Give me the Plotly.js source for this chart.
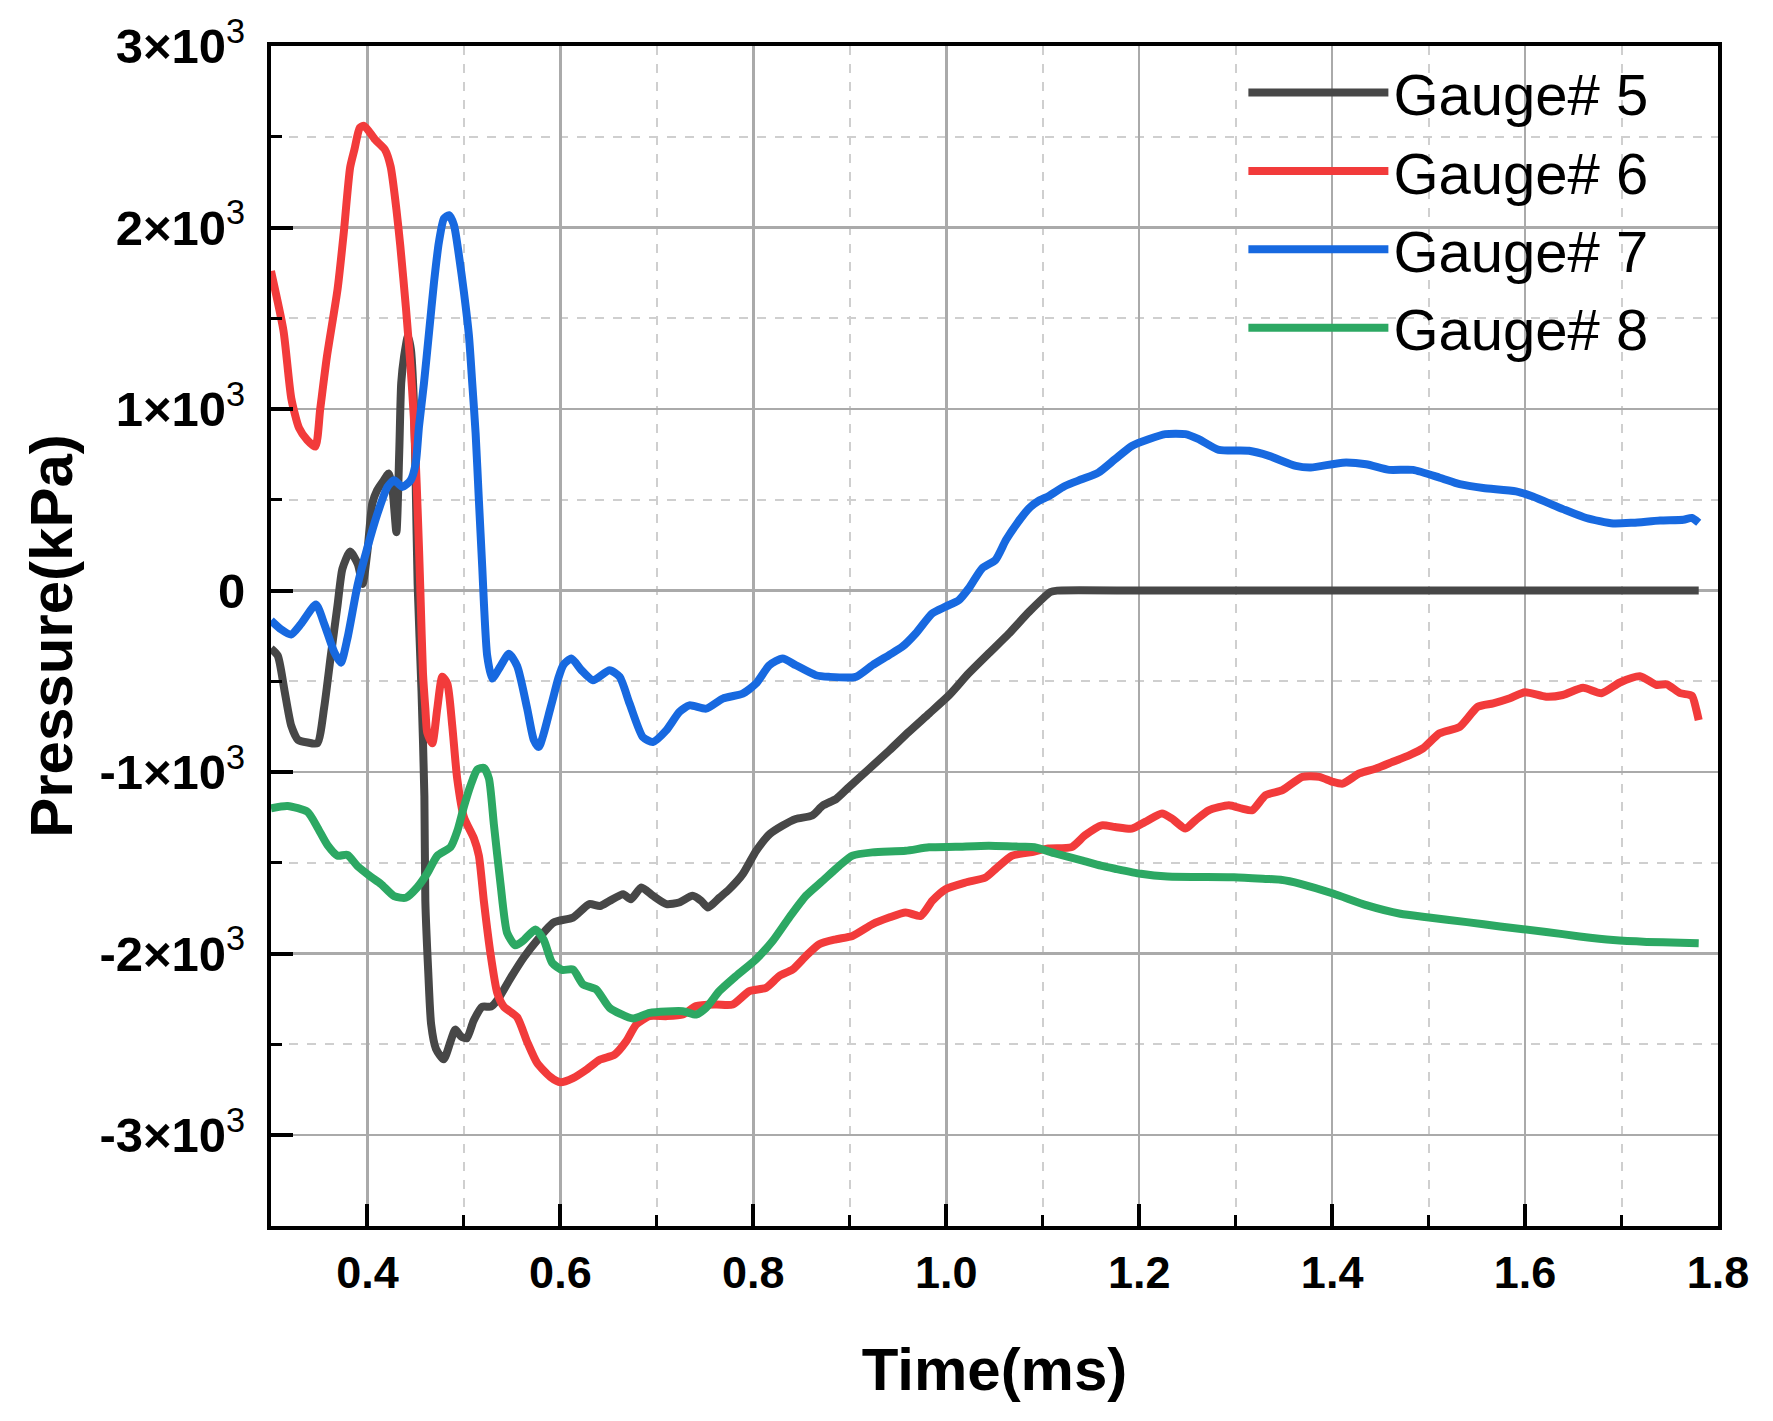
<!DOCTYPE html>
<html>
<head>
<meta charset="utf-8">
<script src="https://cdn.plot.ly/plotly-3.0.1.min.js"></script>
<style>
  html, body { margin: 0; padding: 0; background: #fff; }
  #chart { width: 1773px; height: 1421px; }
</style>
</head>
<body>
<div id="chart"></div>
<script>
// Gauge readings, time in ms, pressure in kPa

var t5 = [0.300, 0.307, 0.314, 0.321, 0.328, 0.338, 0.348, 0.355, 0.362, 0.369, 0.374, 0.382, 0.390, 0.395,
  0.400, 0.405, 0.410, 0.417, 0.422, 0.426, 0.430, 0.433, 0.435, 0.438, 0.442, 0.445, 0.448, 0.450, 0.452,
  0.456, 0.459, 0.460, 0.463, 0.466, 0.471, 0.479, 0.486, 0.491, 0.497, 0.503, 0.510, 0.519, 0.528, 0.535,
  0.548, 0.562, 0.576, 0.593, 0.613, 0.630, 0.641, 0.651, 0.665, 0.673, 0.684, 0.696, 0.710, 0.723, 0.737,
  0.746, 0.753, 0.765, 0.775, 0.789, 0.803, 0.817, 0.830, 0.844, 0.861, 0.872, 0.886, 0.899, 0.920, 0.941,
  0.961, 0.982, 1.003, 1.023, 1.044, 1.065, 1.086, 1.108, 1.115, 1.2, 1.3, 1.4, 1.5, 1.6, 1.7, 1.78];
var p5 = [-319, -358, -551, -745, -822, -837, -841, -648, -358, -80, 120, 215, 146, 37,
  220, 479, 553, 608, 645, 553, 322, 775, 1144, 1292, 1403, 1329, 1052, 590, 35,
  -551, -1132, -1712, -2099, -2389, -2524, -2582, -2485, -2418, -2456, -2466, -2369, -2292, -2292, -2253,
  -2137, -2021, -1925, -1828, -1801, -1727, -1737, -1709, -1672, -1700, -1635, -1681, -1727, -1718, -1681,
  -1709, -1746, -1691, -1645, -1562, -1433, -1341, -1295, -1258, -1239, -1184, -1147, -1083, -982, -880,
  -779, -678, -576, -457, -346, -236, -116, -8, 0, 0, 0, 0, 0, 0, 0, 0];

var t6 = [0.300, 0.313, 0.321, 0.329, 0.3375, 0.346, 0.351, 0.358, 0.369, 0.3755, 0.382, 0.3865, 0.392, 0.3965,
  0.408, 0.418, 0.424, 0.430, 0.434, 0.440, 0.4446, 0.448, 0.451, 0.4535, 0.455, 0.4575, 0.460, 0.462, 0.4672,
  0.4724, 0.4776, 0.4828, 0.4879, 0.493, 0.500, 0.5103, 0.5155, 0.5207, 0.5276, 0.5345, 0.5414, 0.5552, 0.5655,
  0.5759, 0.5897, 0.600, 0.6131, 0.6269, 0.6407, 0.6562, 0.6683, 0.6786, 0.6924, 0.7097, 0.7269, 0.7407, 0.7614,
  0.7786, 0.7959, 0.8131, 0.8269, 0.8407, 0.8545, 0.8683, 0.8855, 0.9028, 0.9234, 0.9407, 0.9579, 0.9734, 0.9855,
  0.9993, 1.020, 1.0407, 1.051, 1.0683, 1.089, 1.106, 1.130, 1.1438, 1.1612, 1.175, 1.1924, 1.2062, 1.2236,
  1.234, 1.2479, 1.2583, 1.2721, 1.293, 1.3068, 1.3172, 1.3311, 1.3485, 1.3693, 1.3866, 1.4005, 1.4109, 1.4282,
  1.4456, 1.4629, 1.4803, 1.4941, 1.5115, 1.5323, 1.5510, 1.567, 1.5843, 1.600, 1.6219, 1.6392, 1.6601, 1.6792,
  1.6983, 1.7191, 1.7365, 1.7469, 1.7608, 1.7729, 1.7774, 1.780];
var p6 = [1760, 1430, 1060, 896, 830, 793, 1000, 1290, 1660, 1975, 2330, 2430, 2549, 2560,
  2484, 2430, 2336, 2100, 1900, 1550, 1237, 960, 590, 220, -30, -450, -650, -783, -841,
  -648, -474, -513, -745, -1035, -1248, -1364, -1460, -1712, -2002, -2215, -2292, -2350, -2485,
  -2602, -2679, -2708, -2685, -2639, -2584, -2556, -2482, -2390, -2344, -2344, -2335, -2289, -2280,
  -2280, -2206, -2188, -2123, -2087, -2013, -1948, -1921, -1902, -1838, -1801, -1773, -1792, -1709,
  -1645, -1608, -1580, -1534, -1460, -1440, -1420, -1413, -1348, -1293, -1302, -1311, -1274, -1228,
  -1256, -1311, -1265, -1210, -1182, -1201, -1210, -1127, -1099, -1026, -1026, -1053, -1063, -1007,
  -980, -943, -906, -869, -786, -750, -640, -621, -593, -560, -585, -575, -535, -565,
  -506, -472, -520, -516, -565, -579, -654, -713];

var t7 = [0.300, 0.3103, 0.3207, 0.331, 0.3466, 0.3552, 0.3655, 0.3724, 0.3793, 0.3897, 0.400, 0.4103, 0.4207,
  0.4276, 0.4362, 0.4448, 0.450, 0.4534, 0.4586, 0.4638, 0.469, 0.4741, 0.4793, 0.4845, 0.4897, 0.4948, 0.500,
  0.5052, 0.5086, 0.5121, 0.5155, 0.5190, 0.5207, 0.5241, 0.5293, 0.5379, 0.5466, 0.5552, 0.5655, 0.5724,
  0.5776, 0.590, 0.598, 0.603, 0.6114, 0.6217, 0.6338, 0.651, 0.6614, 0.6717, 0.6855, 0.6959, 0.7097, 0.7234,
  0.7338, 0.751, 0.7683, 0.789, 0.8028, 0.8166, 0.8303, 0.8441, 0.8648, 0.8786, 0.9062, 0.9234, 0.9407, 0.9545,
  0.9683, 0.9855, 0.9993, 1.0131, 1.0234, 1.0372, 1.051, 1.062, 1.074, 1.086, 1.096, 1.106, 1.123, 1.1403,
  1.1577, 1.175, 1.1924, 1.2097, 1.2271, 1.2479, 1.2617, 1.2826, 1.3138, 1.3346, 1.3623, 1.3779, 1.4109, 1.4352,
  1.4594, 1.4837, 1.5115, 1.5323, 1.5566, 1.5906, 1.608, 1.6392, 1.6635, 1.6913, 1.7122, 1.7399, 1.7642, 1.7729,
  1.780];
var p7 = [-164, -213, -242, -184, -77, -184, -338, -397, -261, 29, 238, 423, 571,
  608, 571, 608, 700, 904, 1144, 1421, 1699, 1921, 2050, 2068, 2013, 1847, 1643,
  1403, 1144, 867, 497, 128, -68, -358, -484, -416, -348, -416, -648, -822,
  -861, -640, -480, -410, -374, -438, -494, -438, -475, -622, -807, -834, -770, -668,
  -632, -650, -595, -567, -512, -411, -374, -411, -466, -475, -475, -411, -355, -309,
  -236, -125, -88, -52, 13, 123, 169, 280, 375, 455, 495, 520, 576, 613,
  650, 724, 797, 834, 862, 862, 834, 775, 770, 742, 687, 678, 705, 696,
  665, 665, 622, 586, 565, 547, 518, 449, 400, 370, 374, 386, 390, 400,
  374];

var t8 = [0.300, 0.3172, 0.3379, 0.3483, 0.3586, 0.369, 0.3793, 0.3897, 0.4034, 0.4138, 0.4276, 0.4397, 0.4517,
  0.462, 0.4724, 0.4862, 0.4931, 0.500, 0.5069, 0.5138, 0.5207, 0.5259, 0.531, 0.5379, 0.5448, 0.5534, 0.5621,
  0.5741, 0.5828, 0.5914, 0.6017, 0.6131, 0.6234, 0.6372, 0.651, 0.6752, 0.6924, 0.7269, 0.7407, 0.751, 0.7648,
  0.7821, 0.8028, 0.820, 0.8372, 0.8545, 0.8717, 0.889, 0.9028, 0.9234, 0.9579, 0.9821, 1.0097, 1.0441, 1.0786,
  1.0914, 1.1131, 1.1403, 1.1603, 1.175, 1.2017, 1.2293, 1.2983, 1.3311, 1.3466, 1.3672, 1.4017, 1.4362, 1.4707,
  1.4983, 1.5397, 1.5741, 1.6219, 1.6566, 1.6913, 1.726, 1.7608, 1.780];
var p8 = [-1199, -1186, -1219, -1306, -1402, -1460, -1456, -1518, -1576, -1615, -1683, -1692, -1634,
  -1557, -1460, -1412, -1325, -1190, -1073, -986, -977, -1035, -1286, -1615, -1886, -1954, -1925,
  -1867, -1925, -2050, -2089, -2087, -2169, -2197, -2298, -2357, -2326, -2317, -2335, -2298, -2206,
  -2123, -2031, -1930, -1801, -1681, -1599, -1516, -1460, -1442, -1433, -1414, -1411, -1405, -1411,
  -1414, -1448, -1486, -1515, -1532, -1560, -1575, -1579, -1588, -1593, -1615, -1670, -1734, -1780,
  -1799, -1826, -1850, -1880, -1905, -1925, -1935, -1940, -1943];

var names = ['Gauge# 5', 'Gauge# 6', 'Gauge# 7', 'Gauge# 8'];
var colors = ['#474747', '#f23b3b', '#1769e0', '#2ca863'];

var xTicks = [0.4, 0.6, 0.8, 1.0, 1.2, 1.4, 1.6, 1.8];
var yTicks = [3000, 2000, 1000, 0, -1000, -2000, -3000];
var yMant = ['3', '2', '1', '0', '-1', '-2', '-3'];

// "n×10³" labels, exponent drawn in normal weight like the original
var sup = '<sup><span style="font-weight:normal">3</span></sup>';
var yTickText = yMant.map(function(m) { return m === '0' ? '0' : m + '×10' + sup; });

var xs = [t5, t6, t7, t8];
var ys = [p5, p6, p7, p8];

var traces = [];
for (var i = 0; i < 4; i++) {
  traces.push({
    x: xs[i],
    y: ys[i],
    name: names[i],
    type: 'scatter',
    mode: 'lines',
    line: {color: colors[i], width: 8, shape: 'spline', smoothing: 0.6}
  });
}

var fam = 'Liberation Sans, Arial, sans-serif';
var xTickFont = {family: fam, size: 45, color: '#000', weight: 'bold'};
var yTickFont = {family: fam, size: 49, color: '#000', weight: 'bold'};
var titleFont = {family: fam, size: 60, color: '#000', weight: 'bold'};

var minorGrid = {
  ticks: 'inside',
  ticklen: 11,
  tickwidth: 3,
  tickcolor: '#000',
  showgrid: true,
  gridcolor: '#cfcfcf',
  gridwidth: 2,
  griddash: 'dash'
};

var layout = {
  width: 1773,
  height: 1421,
  paper_bgcolor: '#fff',
  plot_bgcolor: '#fff',
  margin: {l: 271, r: 55, t: 46, b: 195},
  showlegend: true,
  legend: {
    x: 0.672,
    y: 0.998,
    xanchor: 'left',
    yanchor: 'top',
    bgcolor: 'rgba(0,0,0,0)',
    itemwidth: 140,
    font: {family: fam, size: 58, color: '#000'}
  },
  xaxis: {
    range: [0.3, 1.8],
    tickvals: xTicks,
    ticktext: xTicks.map(function(v) { return v.toFixed(1); }),
    ticks: 'inside',
    ticklen: 22,
    tickwidth: 4,
    tickcolor: '#000',
    ticklabelstandoff: 4,
    tickfont: xTickFont,
    showline: true,
    linecolor: '#000',
    linewidth: 4,
    mirror: true,
    showgrid: true,
    gridcolor: '#aaaaaa',
    gridwidth: 2.5,
    zeroline: false,
    minor: Object.assign({dtick: 0.1, tick0: 0.3}, minorGrid),
    title: {text: 'Time(ms)', font: titleFont, standoff: 52}
  },
  yaxis: {
    range: [-3500, 3000],
    tickvals: yTicks,
    ticktext: yTickText,
    ticks: 'inside',
    ticklen: 22,
    tickwidth: 4,
    tickcolor: '#000',
    ticklabelstandoff: 12,
    tickfont: yTickFont,
    showline: true,
    linecolor: '#000',
    linewidth: 4,
    mirror: true,
    showgrid: true,
    gridcolor: '#aaaaaa',
    gridwidth: 2.5,
    zeroline: false,
    minor: Object.assign({dtick: 500, tick0: 0}, minorGrid),
    title: {text: 'Pressure(kPa)', font: titleFont, standoff: 8}
  }
};

Plotly.newPlot('chart', traces, layout, {displayModeBar: false, staticPlot: true});
</script>
</body>
</html>
